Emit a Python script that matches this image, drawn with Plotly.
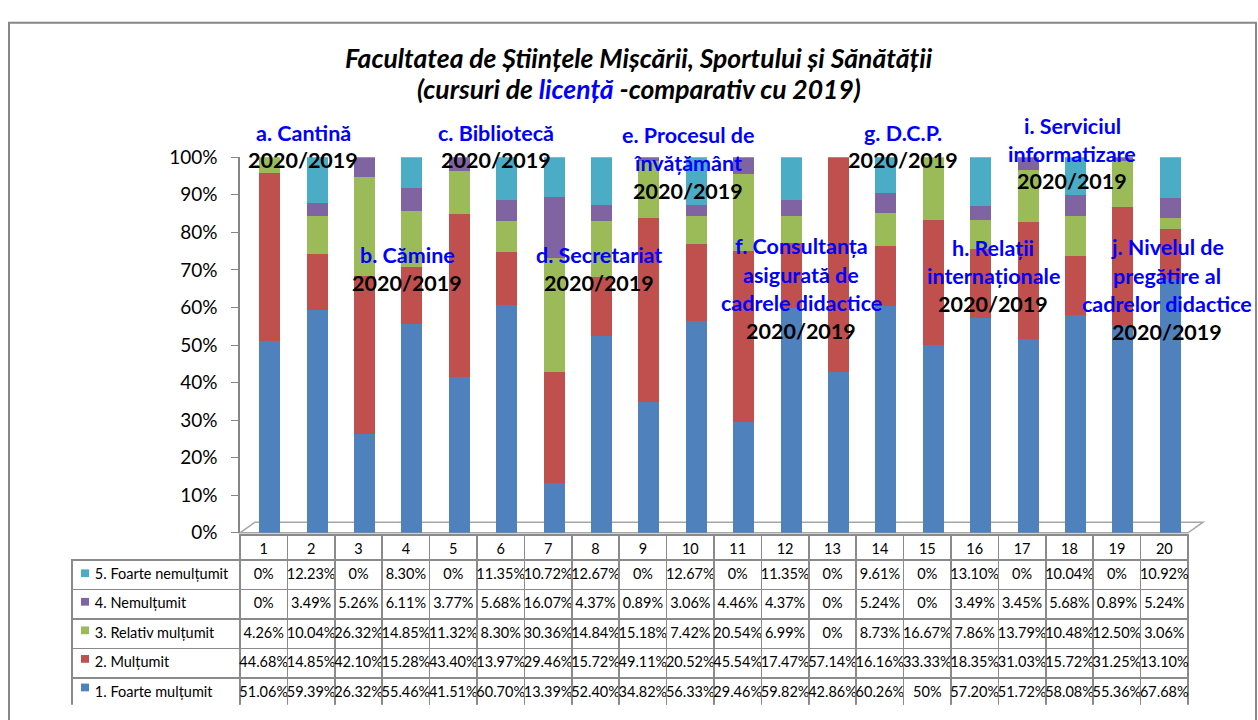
import plotly.graph_objects as go

W, H = 1258, 720

categories = list(range(1, 21))

series_names = ["1. Foarte mulțumit", "2. Mulțumit", "3. Relativ mulțumit",
                "4. Nemulțumit", "5. Foarte nemulțumit"]
series_colors = ["#4F81BD", "#C0504D", "#9BBB59", "#8064A2", "#4BACC6"]

foarte_multumit = [51.06, 59.39, 26.32, 55.46, 41.51, 60.70, 13.39, 52.40, 34.82, 56.33,
                   29.46, 59.82, 42.86, 60.26, 50, 57.20, 51.72, 58.08, 55.36, 67.68]
multumit = [44.68, 14.85, 42.10, 15.28, 43.40, 13.97, 29.46, 15.72, 49.11, 20.52,
            45.54, 17.47, 57.14, 16.16, 33.33, 18.35, 31.03, 15.72, 31.25, 13.10]
relativ_multumit = [4.26, 10.04, 26.32, 14.85, 11.32, 8.30, 30.36, 14.84, 15.18, 7.42,
                    20.54, 6.99, 0, 8.73, 16.67, 7.86, 13.79, 10.48, 12.50, 3.06]
nemultumit = [0, 3.49, 5.26, 6.11, 3.77, 5.68, 16.07, 4.37, 0.89, 3.06,
              4.46, 4.37, 0, 5.24, 0, 3.49, 3.45, 5.68, 0.89, 5.24]
foarte_nemultumit = [0, 12.23, 0, 8.30, 0, 11.35, 10.72, 12.67, 0, 12.67,
                     0, 11.35, 0, 9.61, 0, 13.10, 0, 10.04, 0, 10.92]

series_values = [foarte_multumit, multumit, relativ_multumit, nemultumit, foarte_nemultumit]

ytick_vals = list(range(0, 101, 10))

# group labels: (lines, x-center px, y px per line)
group_labels = [
    (["a. Cantină"], 303, [125, 153]),
    (["b. Cămine"], 407, [251, 280]),
    (["c. Bibliotecă"], 496, [125, 153]),
    (["d. Secretariat"], 599, [251, 280]),
    (["e. Procesul de", "învățământ"], 688, [127, 156, 185]),
    (["f. Consultanța", "asigurată de", "cadrele didactice"], 801, [242, 272, 301, 330]),
    (["g. D.C.P."], 903, [125, 153]),
    (["h. Relații", "internaționale"], 993, [244, 273, 302]),
    (["i. Serviciul", "informatizare"], 1072, [118, 147, 175]),
    (["j. Nivelul de", "pregătire al", "cadrelor didactice"], 1167, [243, 273, 302, 331]),
]
period_label = "2020/2019"

FONT = "Lato"

TABLE_TOP = 540
HEADER_H = 25
ROW_H = 29.5


def px(x):
    return x / W


def py(y):
    return 1 - y / H


def fmt(v):
    return f"{int(v)}%" if float(v).is_integer() else f"{v:.2f}%"


fig = go.Figure()

for name, color, vals in zip(series_names, series_colors, series_values):
    fig.add_trace(go.Bar(x=categories, y=vals, name=name, marker_color=color,
                         marker_line_width=0, width=0.44, showlegend=False))

# data table
row_order = list(range(4, -1, -1))
nb = "\u00a0"
label_col = [nb * 4 + series_names[i] for i in row_order]
value_cols = [[fmt(series_values[i][c]) for i in row_order] for c in range(len(categories))]
header_vals = [""] + [str(c) for c in categories]

fig.add_trace(go.Table(
    domain=dict(x=[px(72), px(1188)], y=[py(716), py(TABLE_TOP)]),
    columnwidth=[168] + [47.4] * 20,
    header=dict(values=header_vals, height=HEADER_H,
                fill_color=["rgba(0,0,0,0)"] + ["white"] * 20,
                line=dict(color=["rgba(0,0,0,0)"] + ["#8a8a8a"] * 20, width=1.5),
                font=dict(family=FONT, size=14.5, color="black"),
                align="center"),
    cells=dict(values=[label_col] + value_cols, height=ROW_H,
               fill_color="white",
               line=dict(color="#8a8a8a", width=1.5),
               font=dict(family=FONT, size=14.5, color="black"),
               align=["left"] + ["center"] * 20),
))

annotations = []
for lines, xc, ys in group_labels:
    all_lines = [(t, "#0000FF") for t in lines] + [(period_label, "black")]
    for (t, col), yy in zip(all_lines, ys):
        annotations.append(dict(text=f"<b>{t}</b>", x=px(xc), y=py(yy), xref="paper", yref="paper",
                                xanchor="center", yanchor="middle", showarrow=False,
                                font=dict(family=FONT, size=21.5, color=col)))

annotations.append(dict(text="<b><i>Facultatea de Științele Mișcării, Sportului și Sănătății</i></b>",
                        x=px(639), y=py(48), xref="paper", yref="paper", xanchor="center",
                        yanchor="middle", showarrow=False,
                        font=dict(family=FONT, size=26.5, color="black")))
annotations.append(dict(text="<b><i>(cursuri de <span style='color:#0000FF'>licență</span> -comparativ cu 2019)</i></b>",
                        x=px(639), y=py(80), xref="paper", yref="paper", xanchor="center",
                        yanchor="middle", showarrow=False,
                        font=dict(family=FONT, size=26.5, color="black")))

shapes = [
    dict(type="rect", xref="paper", yref="paper", x0=px(9), x1=px(1256), y0=-0.02, y1=py(11),
         line=dict(color="#878787", width=2), fillcolor="rgba(0,0,0,0)", layer="below"),
    dict(type="path", xref="paper", yref="paper",
         path=f"M {px(240)},{py(538)} L {px(1188)},{py(538)} L {px(1203)},{py(527)} L {px(255)},{py(527)} Z",
         line=dict(color="#A6A6A6", width=1.5), fillcolor="rgba(0,0,0,0)", layer="below"),
]
# legend keys inside the table's first column
for k, i in enumerate(row_order):
    yc = TABLE_TOP + HEADER_H + ROW_H * (k + 0.5)
    shapes.append(dict(type="rect", xref="paper", yref="paper",
                       x0=px(81), x1=px(89), y0=py(yc + 4), y1=py(yc - 4),
                       line=dict(width=0), fillcolor=series_colors[i], layer="above"))

fig.update_layout(
    width=W, height=H,
    margin=dict(l=0, r=0, t=0, b=0),
    paper_bgcolor="white", plot_bgcolor="rgba(0,0,0,0)",
    barmode="stack",
    font=dict(family=FONT, color="black"),
    annotations=annotations,
    shapes=shapes,
    xaxis=dict(domain=[px(240), px(1188)], range=[0.373, 20.373], showticklabels=False,
               showgrid=False, zeroline=False, showline=False, ticks=""),
    yaxis=dict(domain=[py(538), py(150)], range=[0, 100], tickvals=ytick_vals,
               ticktext=[f"{v}%" for v in ytick_vals],
               showgrid=False, zeroline=False, showline=True, linecolor="#868686", linewidth=1.5,
               ticks="outside", ticklen=7, tickcolor="#868686",
               tickfont=dict(family=FONT, size=19, color="black"), ticklabelstandoff=10),
)

fig.write_html("out.html", config={"displayModeBar": False},
               post_script="document.body.style.margin='0';")
